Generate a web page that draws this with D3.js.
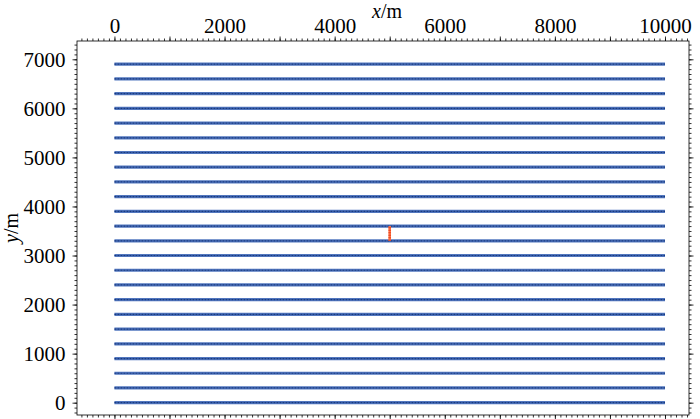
<!DOCTYPE html>
<html><head><meta charset="utf-8">
<script src="https://cdn.jsdelivr.net/npm/d3@7"></script>
<style>body{margin:0;background:#fff}</style>
</head><body>
<svg id="c" width="700" height="419"></svg>
<script>
// receiver line y positions (m)
const receiverLinesY = [0,300,600,900,1200,1500,1800,2100,2400,2700,3000,3300,3600,3900,4200,4500,4800,5100,5400,5700,6000,6300,6600,6900];
const receiverXExtent = [0, 10000];
// source line
const sourceX = 5000;
const sourceYExtent = [3300, 3600];
const xTickLabels = [0,2000,4000,6000,8000,10000];
const yTickLabels = [0,1000,2000,3000,4000,5000,6000,7000];

const svg = d3.select("#c");
const L=77, R=689, T=41, B=415;
const x = d3.scaleLinear().domain([-680, 10436]).range([L, R]);
const y = d3.scaleLinear().domain([-251, 7373]).range([B, T]);
const font = "'Liberation Serif','Times New Roman',serif";
const fs = 21;

// receiver lines
const g = svg.append("g");
receiverLinesY.forEach(v => {
  g.append("line").attr("x1", x(receiverXExtent[0])).attr("x2", x(receiverXExtent[1]))
    .attr("y1", y(v)).attr("y2", y(v)).attr("stroke", "#3f68b8").attr("stroke-width", 3.2).attr("stroke-opacity",0.9);
  g.append("line").attr("x1", x(receiverXExtent[0])).attr("x2", x(receiverXExtent[1]))
    .attr("y1", y(v)).attr("y2", y(v)).attr("stroke", "#183a80").attr("stroke-width", 1.2)
    .attr("stroke-dasharray", "2,1");
});
// source line
g.append("line").attr("x1", x(sourceX)).attr("x2", x(sourceX))
  .attr("y1", y(sourceYExtent[0])).attr("y2", y(sourceYExtent[1]))
  .attr("stroke", "#ff7448").attr("stroke-width", 2.6);
g.append("line").attr("x1", x(sourceX)).attr("x2", x(sourceX))
  .attr("y1", y(sourceYExtent[0])).attr("y2", y(sourceYExtent[1]))
  .attr("stroke", "#e8401a").attr("stroke-width", 2.6).attr("stroke-dasharray","1,1.5");

// axes
function styleAxis(sel){
  sel.select(".domain").remove();
  sel.selectAll("line").attr("stroke","#000").attr("stroke-width",0.8);
  sel.selectAll("text").attr("font-family",font).attr("font-size",fs).attr("fill","#000");
}
const xMinor = d3.range(-600, 10401, 100);
const yMinor = d3.range(-200, 7301, 100);
const xMajor = d3.range(0, 10001, 1000);
const yMajor = d3.range(0, 7001, 1000);

// top
svg.append("g").attr("transform",`translate(0,${T})`)
  .call(d3.axisTop(x).tickValues(xMinor).tickSize(2.5).tickFormat("")).call(styleAxis);
svg.append("g").attr("transform",`translate(0,${T})`)
  .call(d3.axisTop(x).tickValues(xMajor).tickSize(4.5).tickPadding(4)
    .tickFormat(d => xTickLabels.includes(d) ? d : "")).call(styleAxis);
// bottom
svg.append("g").attr("transform",`translate(0,${B})`)
  .call(d3.axisBottom(x).tickValues(xMinor).tickSize(2.5).tickFormat("")).call(styleAxis);
svg.append("g").attr("transform",`translate(0,${B})`)
  .call(d3.axisBottom(x).tickValues(xMajor).tickSize(4.5).tickFormat("")).call(styleAxis);
// left
svg.append("g").attr("transform",`translate(${L},0)`)
  .call(d3.axisLeft(y).tickValues(yMinor).tickSize(2.5).tickFormat("")).call(styleAxis);
svg.append("g").attr("transform",`translate(${L},0)`)
  .call(d3.axisLeft(y).tickValues(yMajor).tickSize(4.5).tickPadding(7)
    .tickFormat(d => yTickLabels.includes(d) ? d : "")).call(styleAxis);
// right
svg.append("g").attr("transform",`translate(${R},0)`)
  .call(d3.axisRight(y).tickValues(yMinor).tickSize(2.5).tickFormat("")).call(styleAxis);
svg.append("g").attr("transform",`translate(${R},0)`)
  .call(d3.axisRight(y).tickValues(yMajor).tickSize(4.5).tickFormat("")).call(styleAxis);

// frame
svg.append("rect").attr("x",L).attr("y",T).attr("width",R-L).attr("height",B-T)
  .attr("fill","none").attr("stroke","#000").attr("stroke-width",0.8);

// axis titles
const tfs = 20;
const xt = svg.append("text").attr("x",(L+R)/2+4).attr("y",18).attr("text-anchor","middle")
  .attr("font-family",font).attr("font-size",tfs);
xt.append("tspan").attr("font-style","italic").text("x");
xt.append("tspan").text("/m");
const yt = svg.append("text").attr("transform",`translate(18,${(T+B)/2}) rotate(-90)`).attr("text-anchor","middle")
  .attr("font-family",font).attr("font-size",tfs);
yt.append("tspan").attr("font-style","italic").text("y");
yt.append("tspan").text("/m");
</script>
</body></html>
